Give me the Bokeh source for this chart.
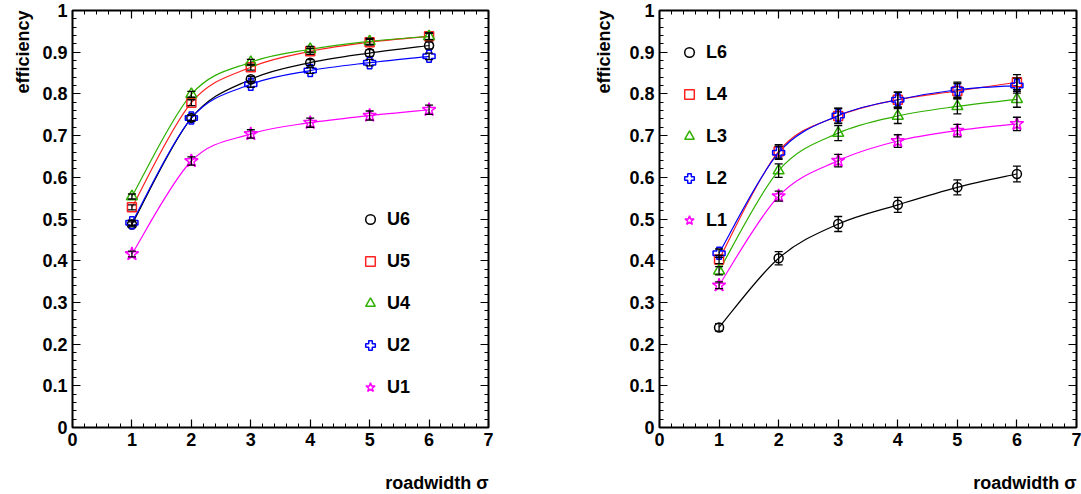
import math
from bokeh.plotting import figure
from bokeh.models import (ColumnDataSource, Whisker, TeeHead, FixedTicker, LinearAxis,
                          Range1d, Title, Legend, LegendItem)
from bokeh.layouts import row
from bokeh.embed import file_html
from bokeh.resources import INLINE

# ---------------- data ----------------
roadwidth = [1, 2, 3, 4, 5, 6]

# left panel (U layers)
U6 = [0.487, 0.742, 0.835, 0.875, 0.898, 0.916]
U5 = [0.528, 0.779, 0.864, 0.902, 0.924, 0.938]
U4 = [0.554, 0.799, 0.876, 0.907, 0.926, 0.938]
U2 = [0.491, 0.742, 0.823, 0.856, 0.875, 0.890]
U1 = [0.416, 0.639, 0.704, 0.731, 0.748, 0.762]
U6_err = [0.006, 0.007, 0.007, 0.007, 0.008, 0.008]
U5_err = [0.006, 0.007, 0.007, 0.007, 0.007, 0.008]
U4_err = [0.006, 0.007, 0.007, 0.007, 0.007, 0.008]
U2_err = [0.006, 0.007, 0.007, 0.007, 0.008, 0.008]
U1_err = [0.007, 0.010, 0.010, 0.011, 0.011, 0.011]

# right panel (L layers)
L6 = [0.240, 0.406, 0.488, 0.534, 0.576, 0.608]
L4 = [0.403, 0.662, 0.747, 0.786, 0.807, 0.828]
L3 = [0.376, 0.616, 0.706, 0.747, 0.770, 0.787]
L2 = [0.418, 0.659, 0.748, 0.786, 0.810, 0.820]
L1 = [0.341, 0.555, 0.640, 0.687, 0.712, 0.728]
L6_err = [0.009, 0.016, 0.018, 0.018, 0.018, 0.019]
L4_err = [0.010, 0.016, 0.018, 0.018, 0.018, 0.018]
L3_err = [0.010, 0.016, 0.018, 0.018, 0.018, 0.019]
L2_err = [0.010, 0.016, 0.018, 0.018, 0.018, 0.018]
L1_err = [0.008, 0.012, 0.015, 0.015, 0.015, 0.016]

x_ticks = [0, 1, 2, 3, 4, 5, 6, 7]
y_ticks = [0.0, 0.1, 0.2, 0.3, 0.4, 0.5, 0.6, 0.7, 0.8, 0.9, 1.0]
y_tick_labels = ["0", "0.1", "0.2", "0.3", "0.4", "0.5", "0.6", "0.7", "0.8", "0.9", "1"]
x_title = "roadwidth \u03c3"
y_title = "efficiency"

left_series = [("U6", U6, U6_err), ("U5", U5, U5_err), ("U4", U4, U4_err),
               ("U2", U2, U2_err), ("U1", U1, U1_err)]
right_series = [("L6", L6, L6_err), ("L4", L4, L4_err), ("L3", L3, L3_err),
                ("L2", L2, L2_err), ("L1", L1, L1_err)]

# ---------------- styles ----------------
FONT = "Liberation Sans"
GREEN = "#2fb000"
styles = {
    "6": dict(marker="circle", color="black", size=9),
    "5": dict(marker="square", color="#ff2020", size=9),
    "3": dict(marker="triangle", color=GREEN, size=11),
    "2": dict(marker="plus", color="#0000ff", size=12),
    "1": dict(marker="star", color="#ff00ff", size=14),
}
u_styles = {"U6": styles["6"], "U5": styles["5"], "U4": styles["3"],
            "U2": styles["2"], "U1": styles["1"]}
l_styles = {"L6": styles["6"], "L4": styles["5"], "L3": styles["3"],
            "L2": styles["2"], "L1": styles["1"]}

minor_x = [round(i * 0.2, 3) for i in range(36)]
minor_y = [round(i * 0.02, 3) for i in range(51)]


def smooth_segments(xs, ys):
    """Catmull-Rom -> cubic bezier pieces through the measured points."""
    n = len(xs)
    out = dict(x0=[], y0=[], x1=[], y1=[], cx0=[], cy0=[], cx1=[], cy1=[])
    for i in range(n - 1):
        ip = max(i - 1, 0)
        inn = min(i + 2, n - 1)
        out["x0"].append(xs[i]); out["y0"].append(ys[i])
        out["x1"].append(xs[i + 1]); out["y1"].append(ys[i + 1])
        out["cx0"].append(xs[i] + (xs[i + 1] - xs[ip]) / 6.0)
        out["cy0"].append(ys[i] + (ys[i + 1] - ys[ip]) / 6.0)
        out["cx1"].append(xs[i + 1] - (xs[inn] - xs[i]) / 6.0)
        out["cy1"].append(ys[i + 1] - (ys[inn] - ys[i]) / 6.0)
    return out


def make_panel(series, sty, width, bl, br, legend_loc, ytitle_standoff):
    p = figure(width=width, height=494, output_backend="svg", toolbar_location=None,
               x_range=Range1d(0, 7), y_range=Range1d(0, 1),
               min_border_left=bl, min_border_right=br, min_border_top=10,
               min_border_bottom=67, background_fill_color="white",
               border_fill_color="white")
    p.xgrid.visible = False
    p.ygrid.visible = False
    p.outline_line_color = "black"
    p.outline_line_width = 2

    xt = FixedTicker(ticks=x_ticks, minor_ticks=minor_x)
    yt = FixedTicker(ticks=y_ticks, minor_ticks=minor_y)
    for ax, tk in ((p.xaxis[0], xt), (p.yaxis[0], yt)):
        ax.ticker = tk
        ax.axis_line_color = None
        ax.major_tick_in = 8
        ax.major_tick_out = 0
        ax.minor_tick_in = 4
        ax.minor_tick_out = 0
        ax.major_tick_line_width = 1.2
        ax.minor_tick_line_width = 1
        ax.major_label_text_font = FONT
        ax.major_label_text_font_style = "bold"
        ax.major_label_text_font_size = "18px"
        ax.major_label_text_color = "black"
    p.xaxis[0].major_label_standoff = 5
    p.yaxis[0].major_label_standoff = 5
    p.yaxis[0].major_label_overrides = {t: s for t, s in zip(y_ticks, y_tick_labels)}

    # mirrored ticks on top and right
    top = LinearAxis(ticker=FixedTicker(ticks=x_ticks, minor_ticks=minor_x),
                     major_label_overrides={t: "" for t in x_ticks})
    right = LinearAxis(ticker=FixedTicker(ticks=y_ticks, minor_ticks=minor_y),
                       major_label_overrides={t: "" for t in y_ticks})
    for ax in (top, right):
        ax.axis_line_color = None
        ax.major_tick_in = 8
        ax.major_tick_out = 0
        ax.minor_tick_in = 4
        ax.minor_tick_out = 0
        ax.major_tick_line_width = 1.2
        ax.major_label_standoff = 0
        ax.major_label_text_font_size = "1px"
    p.add_layout(top, "above")
    p.add_layout(right, "right")

    items = []
    for name, ys, errs in series:
        st = sty[name]
        seg = smooth_segments(roadwidth, ys)
        p.bezier(x0="x0", y0="y0", x1="x1", y1="y1", cx0="cx0", cy0="cy0",
                 cx1="cx1", cy1="cy1", source=ColumnDataSource(seg),
                 line_color=st["color"], line_width=1.2)
    for name, ys, errs in series:
        st = sty[name]
        src = ColumnDataSource(dict(x=roadwidth, y=ys,
                                    upper=[a + b for a, b in zip(ys, errs)],
                                    lower=[a - b for a, b in zip(ys, errs)]))
        w = Whisker(base="x", upper="upper", lower="lower", dimension="height", source=src,
                    line_color="black", line_width=1.3, level="glyph",
                    upper_head=TeeHead(size=8, line_color="black", line_width=1.3),
                    lower_head=TeeHead(size=8, line_color="black", line_width=1.3))
        p.add_layout(w)
        r = p.scatter(x="x", y="y", source=src, marker=st["marker"], size=st["size"],
                      line_color=st["color"], fill_color=None, line_width=1.5)
        items.append(LegendItem(label=name, renderers=[r]))

    leg = Legend(items=items, location=legend_loc, orientation="vertical",
                 label_text_font=FONT, label_text_font_style="bold",
                 label_text_font_size="18px", label_text_color="black",
                 glyph_width=24, glyph_height=24, label_height=24, spacing=18,
                 label_standoff=5, padding=0, margin=0, border_line_color=None,
                 background_fill_alpha=0)
    p.add_layout(leg)

    p.add_layout(Title(text=x_title, align="right", text_font=FONT,
                       text_font_style="bold", text_font_size="18px",
                       text_color="black", standoff=0, padding=(0, 0, 22, 0)), "below")
    p.add_layout(Title(text=y_title, align="right", text_font=FONT,
                       text_font_style="bold", text_font_size="18px",
                       text_color="black", standoff=ytitle_standoff), "left")
    return p


left = make_panel(left_series, u_styles, 540, 72, 52, (286, 28), 14)
right = make_panel(right_series, l_styles, 541, 119, 5, (18, 195), 26)

layout = row(left, right, spacing=0)
open("out.html", "w").write(file_html(layout, INLINE))
